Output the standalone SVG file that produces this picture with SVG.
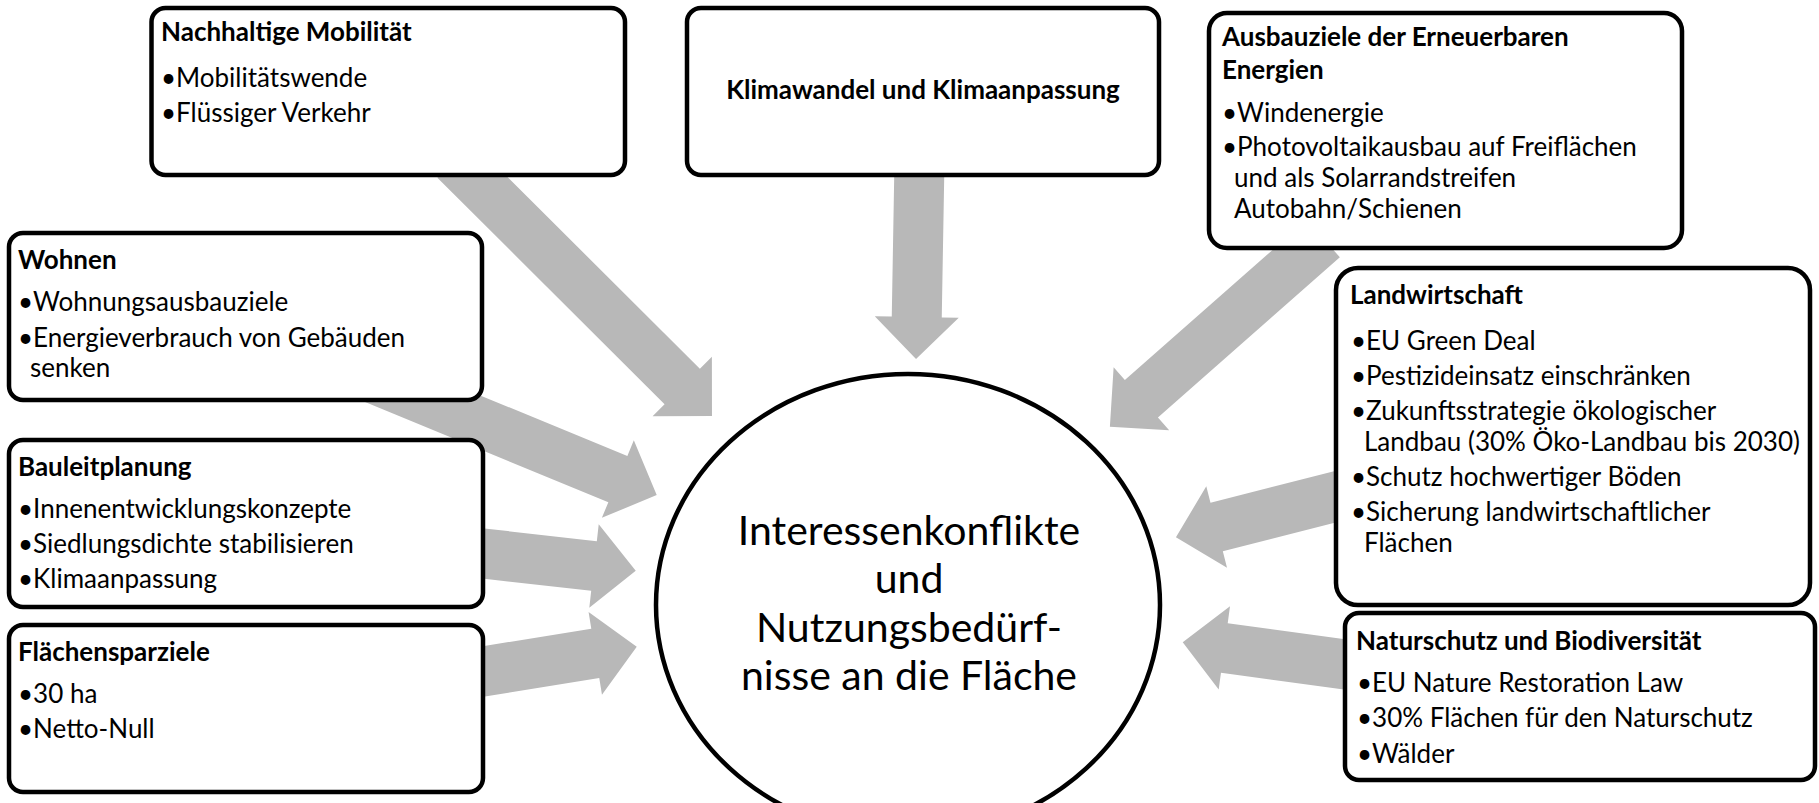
<svg xmlns="http://www.w3.org/2000/svg" width="1819" height="803" viewBox="0 0 1819 803">
<style>
.box{fill:#fff;stroke:#000;stroke-width:4.5}
.arr{fill:#b8b8b8}
text{font-family:Lato,"Open Sans","Liberation Sans",sans-serif;fill:#000}
.t{font-size:26px;font-weight:700}
.b{font-size:26px}
.c{font-size:41px;text-anchor:middle}
</style>
<rect width="1819" height="803" fill="#fff"/>
<g id="connectors">
<polygon class="arr" transform="translate(455,160) rotate(44.9)" points="0,-25 320.8,-25 320.8,-42 362.8,0 320.8,42 320.8,25 0,25"/>
<polygon class="arr" transform="translate(919.5,160) rotate(91)" points="0,-25 157,-25 157,-42 199,0 157,42 157,25 0,25"/>
<polygon class="arr" transform="translate(1323.3,238.5) rotate(138.6)" points="0,-25 242.5,-25 242.5,-42 284.5,0 242.5,42 242.5,25 0,25"/>
<polygon class="arr" transform="translate(360,373) rotate(22.35)" points="0,-25 278.8,-25 278.8,-42 320.8,0 278.8,42 278.8,25 0,25"/>
<polygon class="arr" transform="translate(470,552) rotate(6.44)" points="0,-25 124.8,-25 124.8,-42 166.8,0 124.8,42 124.8,25 0,25"/>
<polygon class="arr" transform="translate(470,673.6) rotate(-9.17)" points="0,-25 126.9,-25 126.9,-42 168.9,0 126.9,42 126.9,25 0,25"/>
<polygon class="arr" transform="translate(1350,493) rotate(165.72)" points="0,-25 137.6,-25 137.6,-42 179.6,0 137.6,42 137.6,25 0,25"/>
<polygon class="arr" transform="translate(1360,666.4) rotate(187.74)" points="0,-25 136.9,-25 136.9,-42 178.9,0 136.9,42 136.9,25 0,25"/>
</g>
<g id="center">
<ellipse cx="908" cy="605" rx="252" ry="231" fill="#fff" stroke="#000" stroke-width="4.5"/>
<text class="c" x="909" y="545">Interessenkonflikte</text>
<text class="c" x="909" y="593">und</text>
<text class="c" x="909" y="642">Nutzungsbedürf-</text>
<text class="c" x="909" y="690">nisse an die Fläche</text>
</g>
<g id="mobilitaet">
<rect class="box" x="151.5" y="8" width="473.5" height="167" rx="14"/>
<text class="t" x="161" y="41">Nachhaltige Mobilität</text>
<text class="b" x="161" y="87">•Mobilitätswende</text>
<text class="b" x="161" y="122">•Flüssiger Verkehr</text>
</g>
<g id="klima">
<rect class="box" x="687" y="8" width="472" height="167" rx="14"/>
<text class="t" x="923" y="99" text-anchor="middle">Klimawandel und Klimaanpassung</text>
</g>
<g id="erneuerbare">
<rect class="box" x="1209" y="13" width="473" height="235" rx="18"/>
<text class="t" x="1222" y="46">Ausbauziele der Erneuerbaren</text>
<text class="t" x="1222" y="79">Energien</text>
<text class="b" x="1222" y="122">•Windenergie</text>
<text class="b" x="1222" y="156">•Photovoltaikausbau auf Freiflächen</text>
<text class="b" x="1234" y="187">und als Solarrandstreifen</text>
<text class="b" x="1234" y="218">Autobahn/Schienen</text>
</g>
<g id="wohnen">
<rect class="box" x="9" y="233" width="473" height="167" rx="14"/>
<text class="t" x="18" y="269">Wohnen</text>
<text class="b" x="18" y="311">•Wohnungsausbauziele</text>
<text class="b" x="18" y="347">•Energieverbrauch von Gebäuden</text>
<text class="b" x="30" y="377">senken</text>
</g>
<g id="bauleitplanung">
<rect class="box" x="9" y="440" width="474" height="167" rx="14"/>
<text class="t" x="18" y="476">Bauleitplanung</text>
<text class="b" x="18" y="518">•Innenentwicklungskonzepte</text>
<text class="b" x="18" y="553">•Siedlungsdichte stabilisieren</text>
<text class="b" x="18" y="588">•Klimaanpassung</text>
</g>
<g id="flaechensparziele">
<rect class="box" x="9" y="625" width="474" height="167" rx="14"/>
<text class="t" x="18" y="661">Flächensparziele</text>
<text class="b" x="18" y="703">•30 ha</text>
<text class="b" x="18" y="738">•Netto-Null</text>
</g>
<g id="landwirtschaft">
<rect class="box" x="1336" y="268" width="474" height="337" rx="22"/>
<text class="t" x="1350" y="304">Landwirtschaft</text>
<text class="b" x="1351" y="350">•EU Green Deal</text>
<text class="b" x="1351" y="385">•Pestizideinsatz einschränken</text>
<text class="b" x="1351" y="420">•Zukunftsstrategie ökologischer</text>
<text class="b" x="1364" y="451">Landbau (30% Öko-Landbau bis 2030)</text>
<text class="b" x="1351" y="486">•Schutz hochwertiger Böden</text>
<text class="b" x="1351" y="521">•Sicherung landwirtschaftlicher</text>
<text class="b" x="1364" y="552">Flächen</text>
</g>
<g id="naturschutz">
<rect class="box" x="1345" y="613" width="470" height="167" rx="14"/>
<text class="t" x="1356" y="650">Naturschutz und Biodiversität</text>
<text class="b" x="1357" y="692">•EU Nature Restoration Law</text>
<text class="b" x="1357" y="727">•30% Flächen für den Naturschutz</text>
<text class="b" x="1357" y="763">•Wälder</text>
</g>
</svg>
